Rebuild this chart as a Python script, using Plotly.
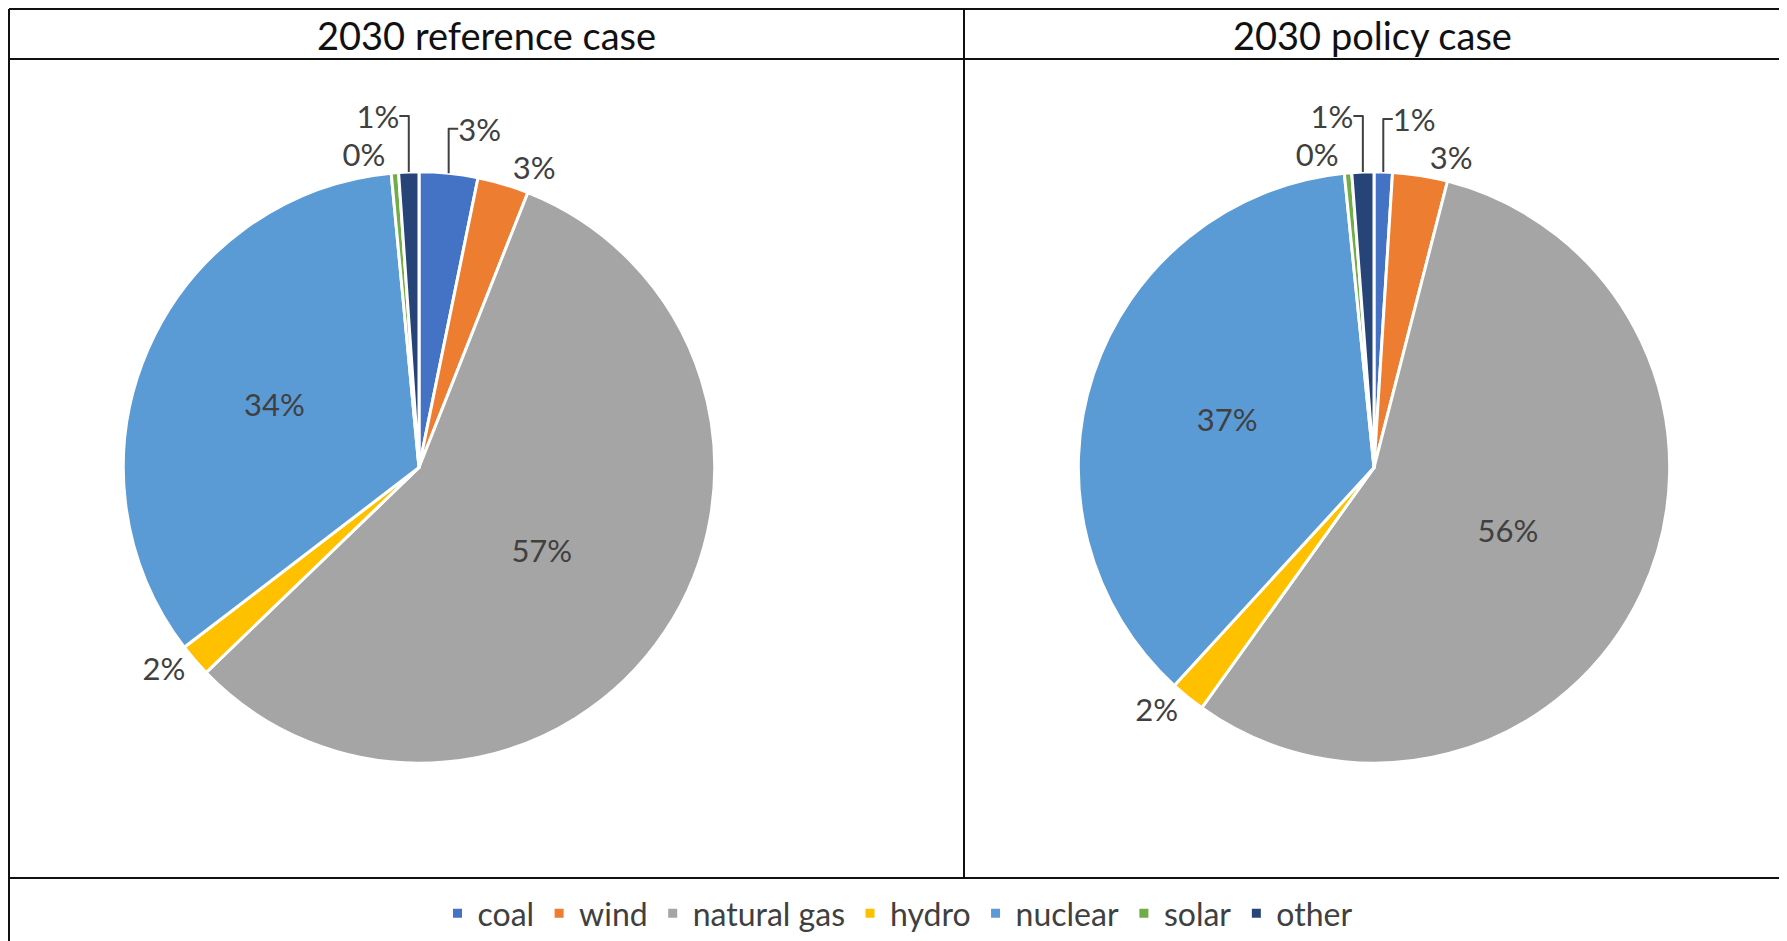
import plotly.graph_objects as go

# page is offset by the default 8px body margin
OFF = 8
W, H = 1779, 933

categories = ["coal", "wind", "natural gas", "hydro", "nuclear", "solar", "other"]
reference_case = [3.2, 2.8, 56.8, 1.8, 33.9, 0.4, 1.1]
policy_case = [1.0, 3.0, 55.9, 1.9, 36.6, 0.4, 1.2]
titles = ["2030 reference case", "2030 policy case"]
colors = ["#4472C4", "#ED7D31", "#A5A5A5", "#FFC000", "#5B9BD5", "#70AD47", "#264478"]

TXT = "#404040"
FONT = "Lato"

def px(x):
    return (x - OFF) / W

def py(y):
    return 1 - (y - OFF) / H

R = 296
centers = [(419, 468), (1374, 468)]

fig = go.Figure()
for i, vals in enumerate([reference_case, policy_case]):
    cx, cy = centers[i]
    tp = ["inside" if v > 10 else "outside" for v in vals]
    fig.add_trace(go.Pie(
        labels=categories,
        values=vals,
        sort=False,
        direction="clockwise",
        rotation=0,
        marker=dict(colors=colors, line=dict(color="white", width=3)),
        textinfo="percent",
        texttemplate="%{percent:.0%}",
        textposition=tp,
        insidetextorientation="horizontal",
        textfont=dict(color=TXT, size=31, family=FONT),
        domain=dict(x=[px(cx - R), px(cx + R)], y=[py(cy + R), py(cy - R)]),
        showlegend=(i == 0),
        hoverinfo="label+percent",
    ))

shapes = []
def line(x0, y0, x1, y1):
    shapes.append(dict(type="line", xref="paper", yref="paper",
                       x0=px(x0), y0=py(y0), x1=px(x1), y1=py(y1),
                       line=dict(color="#111111", width=2)))

TOP = 9
line(9, TOP, 1781, TOP)
line(9, TOP, 9, 945)
line(1781, TOP, 1781, 945)
line(9, 59, 1781, 59)
line(964, TOP, 964, 879)
line(9, 879, 1781, 879)

annotations = []
for t, (x0, x1) in zip(titles, [(9, 964), (964, 1781)]):
    annotations.append(dict(text=t, x=px((x0 + x1) / 2), y=py(35), xref="paper", yref="paper",
                            showarrow=False, xanchor="center", yanchor="middle",
                            font=dict(size=38, color="#111111", family=FONT)))

fig.update_layout(
    width=W, height=H,
    margin=dict(l=0, r=0, t=0, b=0),
    paper_bgcolor="white",
    plot_bgcolor="white",
    shapes=shapes,
    annotations=annotations,
    uniformtext=dict(minsize=10),
    legend=dict(orientation="h", x=0.5, xanchor="center", y=py(914), yanchor="middle",
                font=dict(size=32, color=TXT, family=FONT), itemwidth=30,
                traceorder="normal"),
)

fig.write_html("out.html")
